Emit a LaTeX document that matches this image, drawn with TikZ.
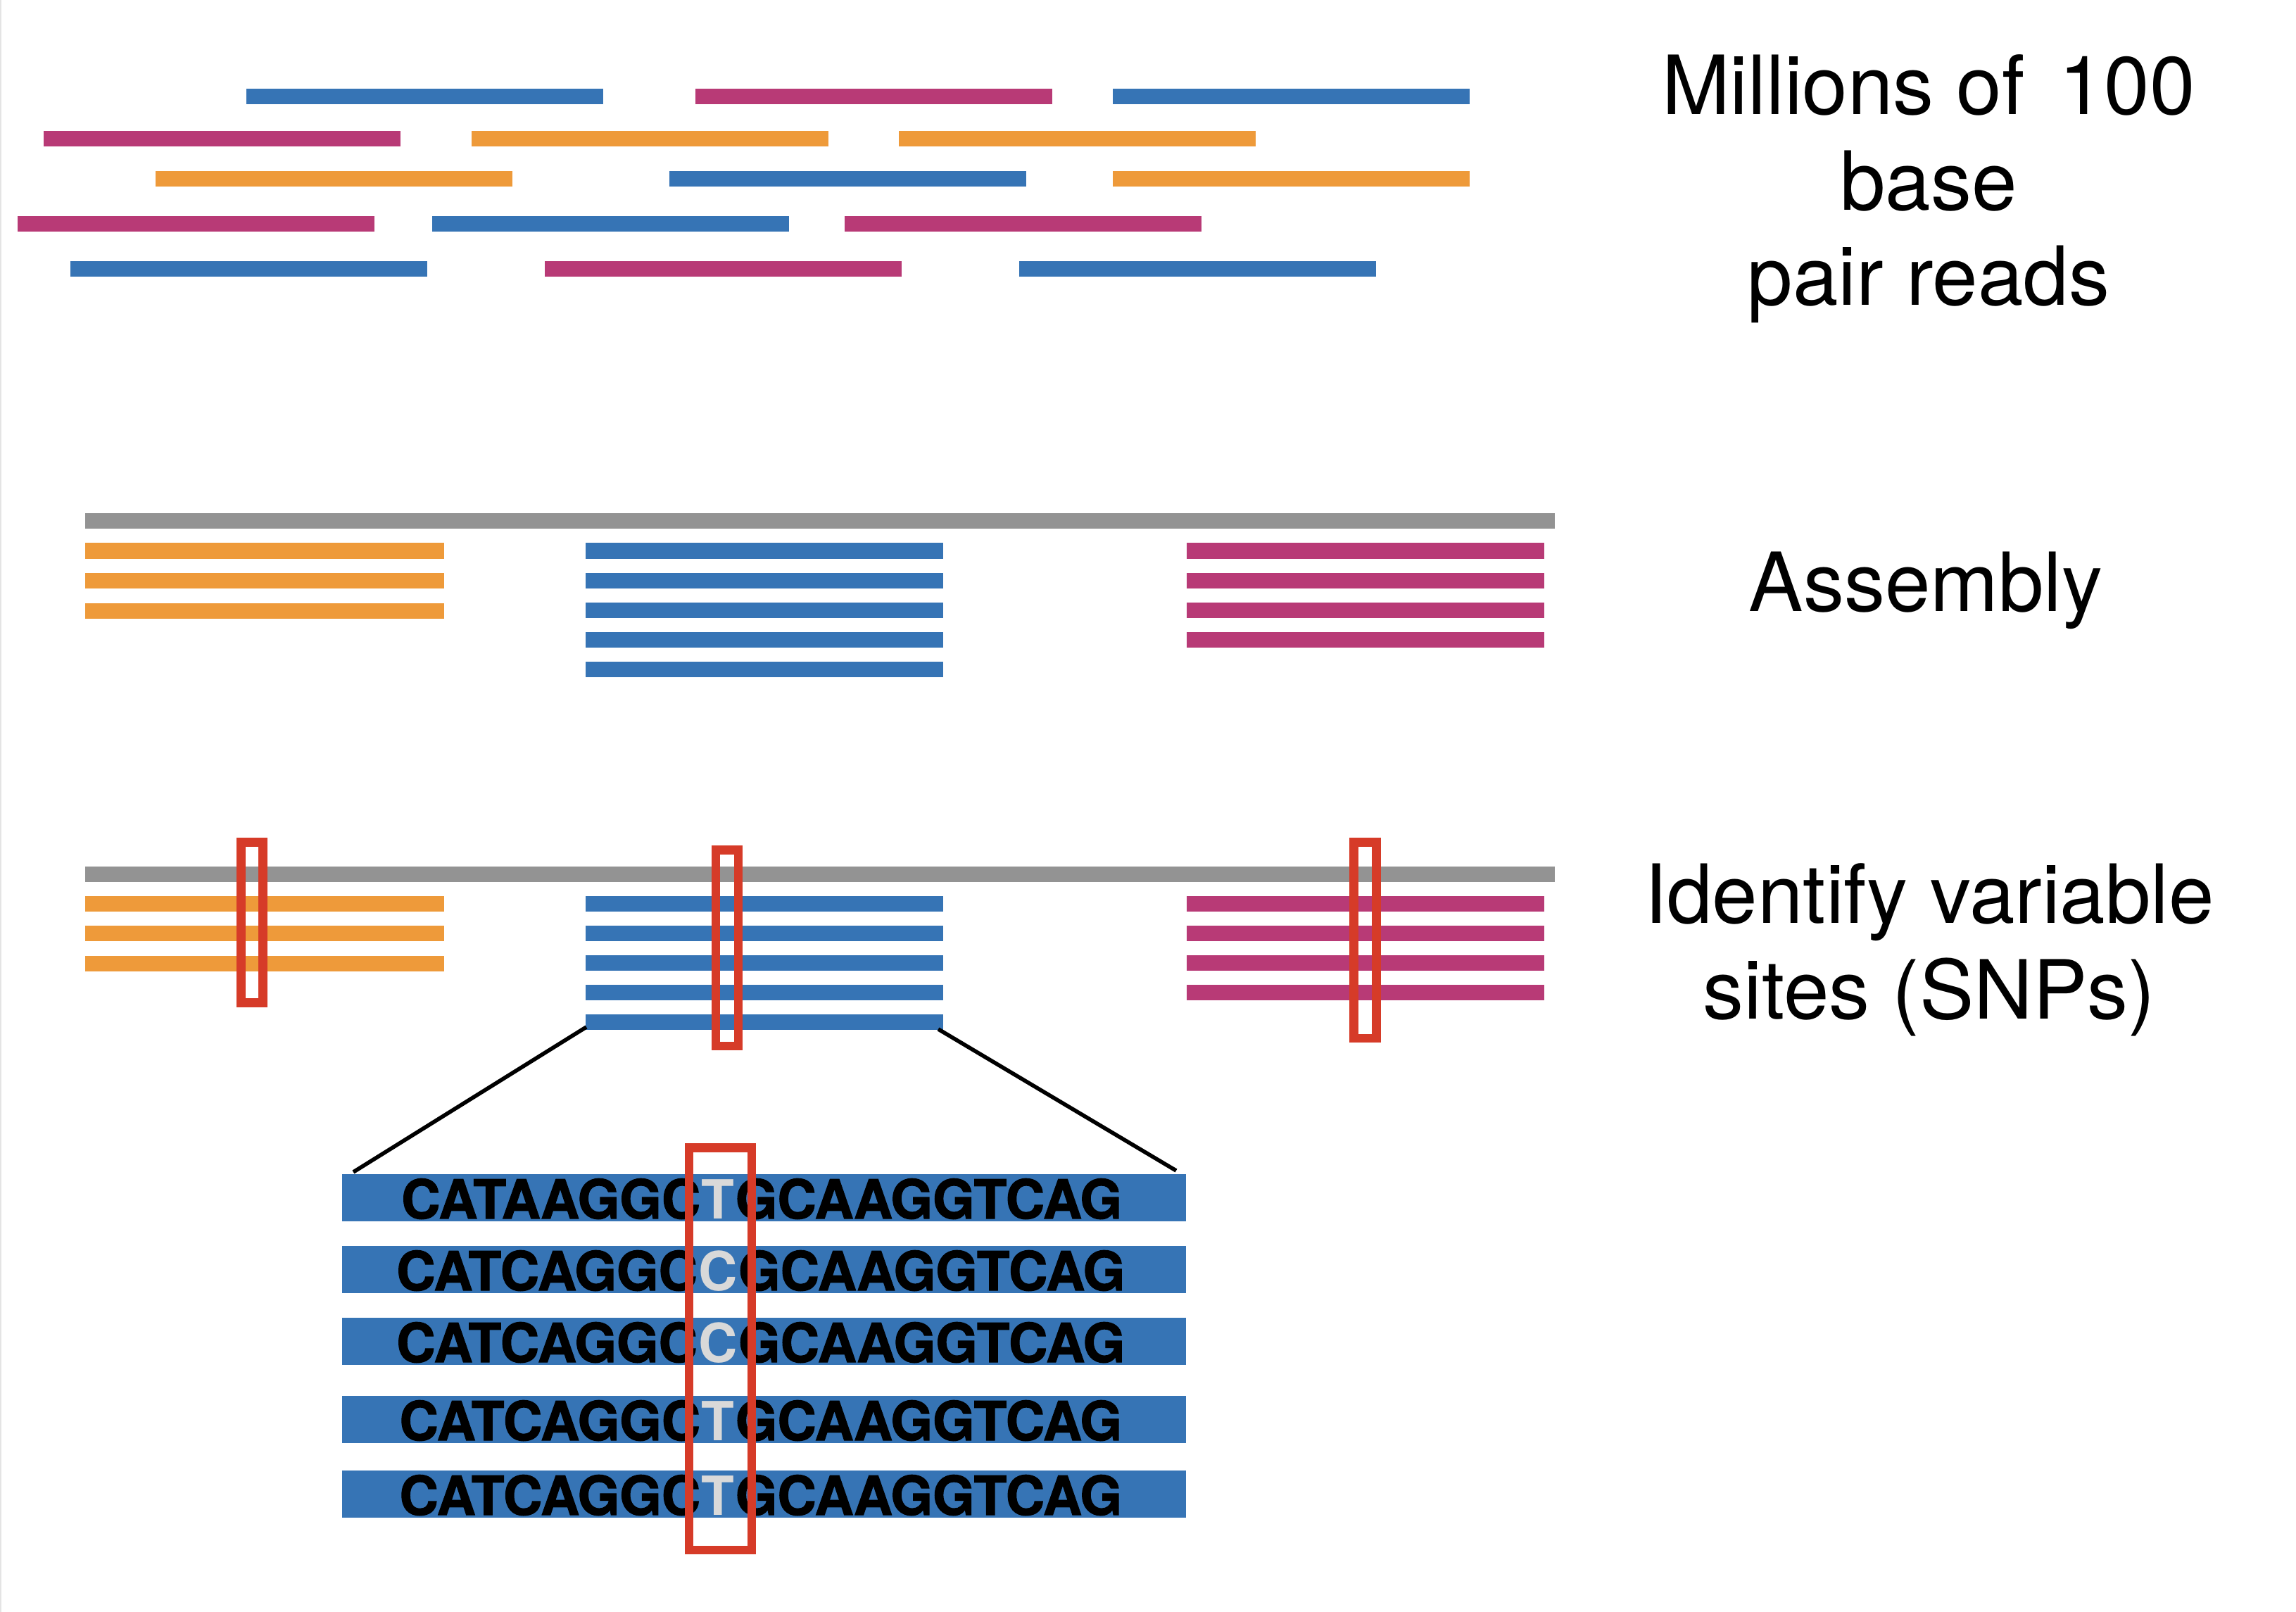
\documentclass[tikz,border=0pt]{standalone}
\usepackage{fontspec}
\setmainfont{TeX Gyre Heros}
\newfontfamily\seqfont[FakeBold=1.5]{TeX Gyre Heros Bold}
\newfontfamily\snpfont{TeX Gyre Heros Bold}
\usepackage{tikz}
\usetikzlibrary{calc}
\definecolor{ReadBlue}{HTML}{3674B5}
\definecolor{ReadPink}{HTML}{B83A76}
\definecolor{ReadOrange}{HTML}{EE9A3A}
\definecolor{RefGray}{HTML}{939393}
\definecolor{SnpRed}{HTML}{D63B28}
\definecolor{SnpLight}{HTML}{D9D9D9}
\definecolor{EdgeGray}{HTML}{E4E4E4}
\tikzset{
  blueread/.style={fill=ReadBlue},
  pinkread/.style={fill=ReadPink},
  orangeread/.style={fill=ReadOrange},
  refline/.style={fill=RefGray},
  snpbox/.style={draw=SnpRed,line width=0.125cm},
  zoomline/.style={draw=black,line width=1.6pt},
  stagelabel/.style={font=\fontsize{33}{38.6}\selectfont,align=center,inner sep=0pt},
  seqtext/.style={font=\seqfont\fontsize{21.8}{25}\selectfont,inner sep=0pt},
  snptext/.style={font=\snpfont\fontsize{21.8}{25}\selectfont,text=SnpLight,inner sep=0pt}
}

\begin{document}
\begin{tikzpicture}
    \useasboundingbox (0,0) rectangle (32.62,-22.90);
    \fill[EdgeGray] (0,0) rectangle (0.025,-22.90);

    % millions of short reads
    \fill[blueread] (3.495,-1.26) rectangle ++(5.07,-0.22);
    \fill[pinkread] (9.88,-1.26) rectangle ++(5.07,-0.22);
    \fill[blueread] (15.81,-1.26) rectangle ++(5.07,-0.22);

    \fill[pinkread] (0.62,-1.86) rectangle ++(5.07,-0.22);
    \fill[orangeread] (6.70,-1.86) rectangle ++(5.07,-0.22);
    \fill[orangeread] (12.77,-1.86) rectangle ++(5.07,-0.22);

    \fill[orangeread] (2.205,-2.43) rectangle ++(5.07,-0.22);
    \fill[blueread] (9.51,-2.43) rectangle ++(5.07,-0.22);
    \fill[orangeread] (15.81,-2.43) rectangle ++(5.07,-0.22);

    \fill[pinkread] (0.25,-3.07) rectangle ++(5.07,-0.22);
    \fill[blueread] (6.14,-3.07) rectangle ++(5.07,-0.22);
    \fill[pinkread] (12.00,-3.07) rectangle ++(5.07,-0.22);

    \fill[blueread] (1.00,-3.71) rectangle ++(5.07,-0.22);
    \fill[pinkread] (7.74,-3.71) rectangle ++(5.07,-0.22);
    \fill[blueread] (14.48,-3.71) rectangle ++(5.07,-0.22);

    \node[stagelabel,anchor=base] (readstext) at (27.40,-4.34) {Millions of\hspace{0.42em}100\\base\\pair reads};

    % assembly onto the reference
    \fill[refline] (1.21,-7.295) rectangle (22.09,-7.515);

    \fill[orangeread] (1.21,-7.715) rectangle ++(5.10,-0.22);
    \fill[orangeread] (1.21,-8.135) rectangle ++(5.10,-0.22);
    \fill[orangeread] (1.21,-8.565) rectangle ++(5.10,-0.22);

    \fill[blueread] (8.32,-7.715) rectangle ++(5.08,-0.22);
    \fill[blueread] (8.32,-8.135) rectangle ++(5.08,-0.22);
    \fill[blueread] (8.32,-8.555) rectangle ++(5.08,-0.22);
    \fill[blueread] (8.32,-8.975) rectangle ++(5.08,-0.22);
    \fill[blueread] (8.32,-9.395) rectangle ++(5.08,-0.22);

    \fill[pinkread] (16.86,-7.715) rectangle ++(5.08,-0.22);
    \fill[pinkread] (16.86,-8.135) rectangle ++(5.08,-0.22);
    \fill[pinkread] (16.86,-8.555) rectangle ++(5.08,-0.22);
    \fill[pinkread] (16.86,-8.975) rectangle ++(5.08,-0.22);

    \node[stagelabel,anchor=base] (assemblytext) at (27.36,-8.68) {Assembly};

    % variable sites
    \fill[refline] (1.21,-12.305) rectangle (22.09,-12.525);

    \fill[orangeread] (1.21,-12.725) rectangle ++(5.10,-0.22);
    \fill[orangeread] (1.21,-13.145) rectangle ++(5.10,-0.22);
    \fill[orangeread] (1.21,-13.575) rectangle ++(5.10,-0.22);

    \fill[blueread] (8.32,-12.725) rectangle ++(5.08,-0.22);
    \fill[blueread] (8.32,-13.145) rectangle ++(5.08,-0.22);
    \fill[blueread] (8.32,-13.565) rectangle ++(5.08,-0.22);
    \fill[blueread] (8.32,-13.985) rectangle ++(5.08,-0.22);
    \fill[blueread] (8.32,-14.405) rectangle ++(5.08,-0.22);

    \fill[pinkread] (16.86,-12.725) rectangle ++(5.08,-0.22);
    \fill[pinkread] (16.86,-13.145) rectangle ++(5.08,-0.22);
    \fill[pinkread] (16.86,-13.565) rectangle ++(5.08,-0.22);
    \fill[pinkread] (16.86,-13.985) rectangle ++(5.08,-0.22);

    \draw[snpbox] (3.425,-11.965) rectangle (3.735,-14.245);
    \draw[snpbox] (10.17,-12.075) rectangle (10.49,-14.86);
    \draw[snpbox] (19.235,-11.965) rectangle (19.555,-14.75);

    \node[stagelabel,anchor=base] (snptext) at (27.41,-14.47) {Identify variable\\sites (SNPs)};

    % zoom into the middle block
    \coordinate (zoomA) at (8.33,-14.59);
    \coordinate (zoomB) at (13.33,-14.62);
    \coordinate (zoomC) at (5.02,-16.65);
    \coordinate (zoomD) at (16.71,-16.63);
    \draw[zoomline] (zoomA) -- (zoomC);
    \draw[zoomline] (zoomB) -- (zoomD);

    \fill[blueread] (4.86,-16.68) rectangle ++(11.99,-0.67);
    \fill[blueread] (4.86,-17.70) rectangle ++(11.99,-0.67);
    \fill[blueread] (4.86,-18.72) rectangle ++(11.99,-0.67);
    \fill[blueread] (4.86,-19.83) rectangle ++(11.99,-0.67);
    \fill[blueread] (4.86,-20.89) rectangle ++(11.99,-0.67);

    \node[snptext,anchor=base] (snp1) at (10.20,-17.31) {T};
    \node[seqtext,anchor=base east] (left1) at (snp1.base west) {CATAAGGC};
    \node[seqtext,anchor=base west] (right1) at (snp1.base east) {GCAAGGTCAG};

    \node[snptext,anchor=base] (snp2) at (10.20,-18.33) {C};
    \node[seqtext,anchor=base east] (left2) at (snp2.base west) {CATCAGGC};
    \node[seqtext,anchor=base west] (right2) at (snp2.base east) {GCAAGGTCAG};

    \node[snptext,anchor=base] (snp3) at (10.20,-19.35) {C};
    \node[seqtext,anchor=base east] (left3) at (snp3.base west) {CATCAGGC};
    \node[seqtext,anchor=base west] (right3) at (snp3.base east) {GCAAGGTCAG};

    \node[snptext,anchor=base] (snp4) at (10.20,-20.46) {T};
    \node[seqtext,anchor=base east] (left4) at (snp4.base west) {CATCAGGC};
    \node[seqtext,anchor=base west] (right4) at (snp4.base east) {GCAAGGTCAG};

    \node[snptext,anchor=base] (snp5) at (10.20,-21.52) {T};
    \node[seqtext,anchor=base east] (left5) at (snp5.base west) {CATCAGGC};
    \node[seqtext,anchor=base west] (right5) at (snp5.base east) {GCAAGGTCAG};

    \draw[snpbox] (9.79,-16.305) rectangle (10.68,-22.02);
\end{tikzpicture}
\end{document}
